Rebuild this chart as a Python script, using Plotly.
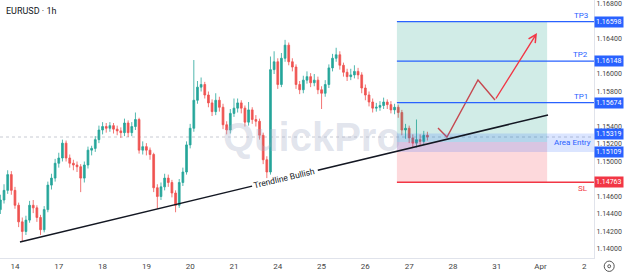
import plotly.graph_objects as go

# ---------------- data ----------------
title_text = "EURUSD · 1h"
day_labels = ["14", "17", "18", "19", "20", "21", "24", "25", "26", "27", "28", "31", "Apr", "2"]
bar_hours = 2          # each candle covers 2 trading hours
first_bar_hour = -8    # first candle starts 8 h before the "14" label

opens = [1.1445, 1.1456, 1.1467, 1.1485, 1.1467, 1.1450, 1.1431, 1.1420, 1.1433, 1.1450,
         1.1447, 1.1436, 1.1422, 1.1445, 1.1473, 1.1481, 1.1498, 1.1504, 1.1521, 1.1504,
         1.1498, 1.1496, 1.1494, 1.1481, 1.1496, 1.1513, 1.1515, 1.1525, 1.1536, 1.1540,
         1.1538, 1.1541, 1.1537, 1.1535, 1.1533, 1.1544, 1.1533, 1.1540, 1.1548, 1.1513,
         1.1517, 1.1513, 1.1508, 1.1470, 1.1460, 1.1471, 1.1481, 1.1476, 1.1464, 1.1450,
         1.1476, 1.1488, 1.1519, 1.1538, 1.1570, 1.1585, 1.1588, 1.1576, 1.1567, 1.1557,
         1.1570, 1.1562, 1.1542, 1.1536, 1.1555, 1.1561, 1.1567, 1.1561, 1.1545, 1.1559,
         1.1548, 1.1546, 1.1530, 1.1502, 1.1488, 1.1605, 1.1614, 1.1588, 1.1618, 1.1633,
         1.1614, 1.1608, 1.1588, 1.1582, 1.1593, 1.1597, 1.1590, 1.1593, 1.1582, 1.1578,
         1.1588, 1.1607, 1.1618, 1.1622, 1.1610, 1.1602, 1.1597, 1.1599, 1.1603, 1.1599,
         1.1584, 1.1576, 1.1568, 1.1561, 1.1562, 1.1564, 1.1568, 1.1565, 1.1559, 1.1562,
         1.1556, 1.1536, 1.1538, 1.1527, 1.1521, 1.1525, 1.1523, 1.1530]
closes = [1.1456, 1.1467, 1.1485, 1.1467, 1.1450, 1.1431, 1.1420, 1.1433, 1.1450, 1.1447,
          1.1436, 1.1422, 1.1445, 1.1473, 1.1481, 1.1498, 1.1504, 1.1521, 1.1504, 1.1498,
          1.1496, 1.1494, 1.1481, 1.1496, 1.1513, 1.1515, 1.1525, 1.1536, 1.1540, 1.1538,
          1.1541, 1.1537, 1.1535, 1.1533, 1.1544, 1.1533, 1.1540, 1.1548, 1.1513, 1.1517,
          1.1513, 1.1508, 1.1470, 1.1460, 1.1471, 1.1481, 1.1476, 1.1464, 1.1450, 1.1476,
          1.1488, 1.1519, 1.1538, 1.1570, 1.1585, 1.1588, 1.1576, 1.1567, 1.1557, 1.1570,
          1.1562, 1.1542, 1.1536, 1.1555, 1.1561, 1.1567, 1.1561, 1.1545, 1.1559, 1.1548,
          1.1546, 1.1530, 1.1502, 1.1488, 1.1605, 1.1614, 1.1588, 1.1618, 1.1633, 1.1614,
          1.1608, 1.1588, 1.1582, 1.1593, 1.1597, 1.1590, 1.1593, 1.1582, 1.1578, 1.1588,
          1.1607, 1.1618, 1.1622, 1.1610, 1.1602, 1.1597, 1.1599, 1.1603, 1.1599, 1.1584,
          1.1576, 1.1568, 1.1561, 1.1562, 1.1564, 1.1568, 1.1565, 1.1559, 1.1562, 1.1556,
          1.1536, 1.1538, 1.1527, 1.1521, 1.1525, 1.1523, 1.1530, 1.1528]
highs = [1.1462, 1.1474, 1.1490, 1.1489, 1.1471, 1.1453, 1.1436, 1.1438, 1.1455, 1.1456,
         1.1450, 1.1439, 1.1449, 1.1477, 1.1486, 1.1503, 1.1510, 1.1525, 1.1524, 1.1508,
         1.1502, 1.1500, 1.1497, 1.1500, 1.1517, 1.1518, 1.1529, 1.1541, 1.1545, 1.1544,
         1.1545, 1.1544, 1.1541, 1.1539, 1.1549, 1.1547, 1.1545, 1.1556, 1.1550, 1.1523,
         1.1521, 1.1516, 1.1510, 1.1474, 1.1476, 1.1486, 1.1485, 1.1479, 1.1467, 1.1480,
         1.1493, 1.1523, 1.1543, 1.1616, 1.1592, 1.1596, 1.1591, 1.1580, 1.1571, 1.1578,
         1.1574, 1.1566, 1.1546, 1.1560, 1.1572, 1.1572, 1.1570, 1.1564, 1.1568, 1.1562,
         1.1553, 1.1549, 1.1533, 1.1506, 1.1620, 1.1626, 1.1618, 1.1624, 1.1639, 1.1636,
         1.1618, 1.1611, 1.1592, 1.1598, 1.1603, 1.1601, 1.1600, 1.1597, 1.1586, 1.1593,
         1.1611, 1.1623, 1.1630, 1.1626, 1.1613, 1.1606, 1.1606, 1.1610, 1.1607, 1.1602,
         1.1588, 1.1580, 1.1572, 1.1567, 1.1569, 1.1573, 1.1571, 1.1569, 1.1566, 1.1565,
         1.1559, 1.1543, 1.1541, 1.1531, 1.1548, 1.1531, 1.1535, 1.1534]
lows = [1.1440, 1.1452, 1.1463, 1.1462, 1.1446, 1.1425, 1.1409, 1.1416, 1.1430, 1.1441,
        1.1431, 1.1416, 1.1419, 1.1442, 1.1468, 1.1477, 1.1493, 1.1500, 1.1500, 1.1493,
        1.1490, 1.1488, 1.1465, 1.1476, 1.1492, 1.1507, 1.1511, 1.1521, 1.1531, 1.1533,
        1.1534, 1.1532, 1.1530, 1.1527, 1.1529, 1.1528, 1.1529, 1.1536, 1.1509, 1.1508,
        1.1507, 1.1502, 1.1465, 1.1446, 1.1456, 1.1467, 1.1471, 1.1459, 1.1442, 1.1447,
        1.1472, 1.1485, 1.1515, 1.1534, 1.1566, 1.1580, 1.1572, 1.1562, 1.1552, 1.1553,
        1.1557, 1.1537, 1.1531, 1.1532, 1.1551, 1.1556, 1.1555, 1.1540, 1.1541, 1.1543,
        1.1540, 1.1525, 1.1497, 1.1481, 1.1485, 1.1600, 1.1583, 1.1585, 1.1614, 1.1610,
        1.1603, 1.1583, 1.1577, 1.1578, 1.1589, 1.1585, 1.1586, 1.1577, 1.1560, 1.1574,
        1.1584, 1.1603, 1.1614, 1.1605, 1.1597, 1.1592, 1.1593, 1.1595, 1.1594, 1.1578,
        1.1570, 1.1563, 1.1556, 1.1557, 1.1558, 1.1560, 1.1560, 1.1555, 1.1554, 1.1550,
        1.1530, 1.1526, 1.1521, 1.1516, 1.1516, 1.1518, 1.1520, 1.1524]

# drawing levels (prices) and anchors (trading-day positions)
tp_levels = [1.15674, 1.16148, 1.16598]
tp_names = ["TP1", "TP2", "TP3"]
sl_level = 1.14763
entry_level = 1.15222
area_entry = [1.15109, 1.15319]
position_days = [8.72, 12.15]
trend_days = [0.114, 12.17]
trend_prices = [1.1408, 1.15532]
trend_label_day = 6.164
trend_label_halfgap = 0.75
projection_days = [9.658, 9.863, 10.571, 10.959, 11.918]
projection_prices = [1.15383, 1.15280, 1.15932, 1.15703, 1.16469]
x_range = [-0.342, 13.22]
y_range = [1.13897, 1.16846]
y_ticks = [1.140, 1.142, 1.144, 1.146, 1.150, 1.152, 1.154, 1.158,
           1.160, 1.164, 1.168]

# ---------------- figure ----------------
x = [(first_bar_hour + i * bar_hours) / 24 for i in range(len(closes))]

BLUE = "#2962ff"
RED = "#f23645"
UP = "#26a69a"
DOWN = "#ef5350"

fig = go.Figure()
fig.add_trace(go.Candlestick(
    x=x, open=opens, high=highs, low=lows, close=closes,
    increasing=dict(line=dict(color=UP, width=0.8), fillcolor=UP),
    decreasing=dict(line=dict(color=DOWN, width=0.8), fillcolor=DOWN),
    whiskerwidth=0, showlegend=False, hoverinfo="skip",
))

shapes = []
# last price line
shapes.append(dict(type="line", xref="paper", x0=0, x1=1, yref="y", y0=closes[-1], y1=closes[-1],
                   line=dict(color="#c8cbd3", width=1, dash="dot"), layer="below"))
# position tool zones
shapes.append(dict(type="rect", xref="x", yref="y", x0=position_days[0], x1=position_days[1],
                   y0=entry_level, y1=tp_levels[-1], fillcolor="rgba(8,153,129,0.19)",
                   line=dict(width=0), layer="above"))
shapes.append(dict(type="rect", xref="x", yref="y", x0=position_days[0], x1=position_days[1],
                   y0=sl_level, y1=entry_level, fillcolor="rgba(242,54,69,0.19)",
                   line=dict(width=0), layer="above"))
# area entry band
shapes.append(dict(type="rect", xref="x", yref="y", x0=position_days[0], x1=x_range[1],
                   y0=area_entry[0], y1=area_entry[1], fillcolor="rgba(41,98,255,0.17)",
                   line=dict(width=0), layer="above"))
# TP lines
for lv in tp_levels:
    shapes.append(dict(type="line", xref="x", yref="y", x0=position_days[0], x1=x_range[1],
                       y0=lv, y1=lv, line=dict(color=BLUE, width=1.3), layer="above"))
# SL line
shapes.append(dict(type="line", xref="x", yref="y", x0=position_days[0], x1=x_range[1],
                   y0=sl_level, y1=sl_level, line=dict(color=RED, width=1.3), layer="above"))

# trendline (with a gap for its label)
def trend_at(d):
    t = (d - trend_days[0]) / (trend_days[1] - trend_days[0])
    return trend_prices[0] + t * (trend_prices[1] - trend_prices[0])

g0 = trend_label_day - trend_label_halfgap
g1 = trend_label_day + trend_label_halfgap
for a, b in [(trend_days[0], g0), (g1, trend_days[1])]:
    shapes.append(dict(type="line", xref="x", yref="y", x0=a, x1=b, y0=trend_at(a), y1=trend_at(b),
                       line=dict(color="#131722", width=1.5), layer="above"))

# gear icon
shapes.append(dict(type="circle", xref="paper", yref="paper", x0=1.0172, x1=1.0340,
                   y0=-0.052, y1=-0.012, line=dict(color="#555", width=1)))
shapes.append(dict(type="circle", xref="paper", yref="paper", x0=1.0232, x1=1.0280,
                   y0=-0.038, y1=-0.026, line=dict(color="#555", width=1)))

fig.update_layout(shapes=shapes)

# projection zigzag
fig.add_trace(go.Scatter(x=projection_days[:-1], y=projection_prices[:-1], mode="lines",
                         line=dict(color=RED, width=1.4), showlegend=False, hoverinfo="skip"))

ann = []
ann.append(dict(x=projection_days[-1], y=projection_prices[-1], xref="x", yref="y",
                ax=projection_days[-2], ay=projection_prices[-2], axref="x", ayref="y",
                showarrow=True, arrowhead=5, arrowsize=1.1, arrowwidth=1.4, arrowcolor=RED,
                text=""))
# watermark
ann.append(dict(x=0.525, y=0.47, xref="paper", yref="paper", text="<b>QuickPro</b>",
                showarrow=False, font=dict(family="Liberation Sans, Arial", size=40,
                                           color="rgba(165,172,200,0.33)")))
# title
ann.append(dict(x=0.006, y=0.985, xref="paper", yref="paper", xanchor="left", yanchor="top",
                text=title_text, showarrow=False,
                font=dict(family="Roboto, Arial", size=9, color="#131722")))
# trendline label
ann.append(dict(x=trend_label_day, y=trend_at(trend_label_day), xref="x", yref="y",
                text="Trendline Bullish", showarrow=False, textangle=-13.5,
                font=dict(family="Roboto, Arial", size=8.5, color="#131722")))
# TP labels
for lv, nm in zip(tp_levels, tp_names):
    ann.append(dict(x=0.993, y=lv, xref="paper", yref="y", xanchor="right", yanchor="bottom",
                    text=nm, showarrow=False, yshift=0,
                    font=dict(family="Roboto, Arial", size=8, color=BLUE)))
ann.append(dict(x=0.993, y=sl_level, xref="paper", yref="y", xanchor="right", yanchor="top",
                text="SL", showarrow=False, font=dict(family="Roboto, Arial", size=8, color=RED)))
ann.append(dict(x=0.998, y=sum(area_entry) / 2, xref="paper", yref="y", xanchor="right",
                text="Area Entry", showarrow=False,
                font=dict(family="Roboto, Arial", size=8, color=BLUE)))
# price-axis value labels
for lv, col in [(tp_levels[2], BLUE), (tp_levels[1], BLUE), (tp_levels[0], BLUE),
                (area_entry[1], BLUE), (area_entry[0], BLUE), (sl_level, RED)]:
    ann.append(dict(x=1, y=lv, xref="paper", yref="y", xanchor="left", xshift=0,
                    text=f"{lv:.5f}", showarrow=False, bgcolor=col, borderpad=1,
                    font=dict(family="Roboto, Arial", size=7, color="white")))

fig.update_layout(
    annotations=ann,
    width=624, height=273,
    margin=dict(l=0, r=30, t=0, b=15),
    paper_bgcolor="white", plot_bgcolor="white",
    showlegend=False,
    xaxis=dict(range=x_range, tickvals=list(range(len(day_labels))), ticktext=day_labels,
               showgrid=False, zeroline=False, showline=True, linecolor="#e0e3eb",
               ticks="", tickfont=dict(family="Roboto, Arial", size=8, color="#444"),
               rangeslider=dict(visible=False), fixedrange=True),
    yaxis=dict(range=y_range, side="right", tickvals=y_ticks,
               ticktext=[f"{v:.5f}" for v in y_ticks], ticklabeloverflow="allow",
               showgrid=False, zeroline=False, showline=True, linecolor="#e0e3eb",
               ticks="", tickfont=dict(family="Roboto, Arial", size=7, color="#444"),
               fixedrange=True),
)

fig.write_html("out.html", config={"displayModeBar": False})
